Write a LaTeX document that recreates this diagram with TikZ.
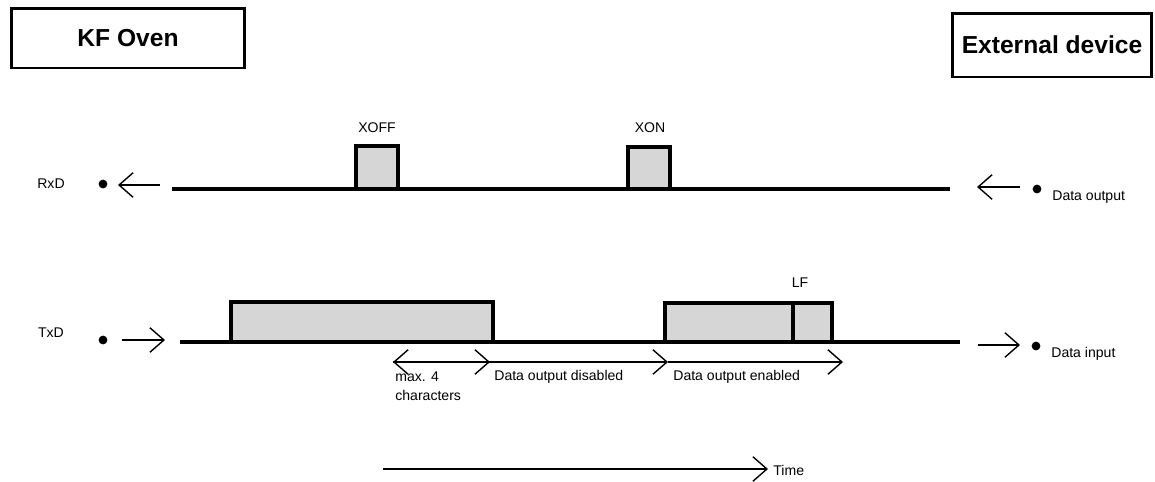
\documentclass[tikz,border=0pt]{standalone}
\usepackage{fontspec}
\setmainfont{Liberation Sans}
\usetikzlibrary{arrows.meta}

\tikzset{
	signal/.style={line width=2.2pt},
	frame/.style={draw, line width=2pt, fill=gray!32},
	barb/.style={line width=0.8pt, -{Straight Barb[length=8pt,width=14pt]}},
	lbl/.style={font=\fontsize{8}{11}\selectfont, inner sep=0pt},
	title/.style={draw, line width=1.7pt, inner sep=0pt, font=\fontsize{14}{16}\selectfont\bfseries},
	dot/.style={circle, fill, inner sep=0pt, minimum size=5pt}
}

\begin{document}
\begin{tikzpicture}[x=0.02cm,y=-0.02cm]
		\useasboundingbox (0,0) rectangle (1155,481);
		% the two devices
		\node[title, minimum width=4.66cm, minimum height=1.2cm] (oven) at (128,38) {KF Oven};
		\node[title, minimum width=3.98cm, minimum height=1.28cm] (ext) at (1052,45) {External device};
		% RxD line
		\node[lbl] (rxd) at (51,184) {RxD};
		\node[dot] (rxdot) at (103,184) {};
		\coordinate (rxa) at (160,185); \coordinate (rxb) at (118,185);
		\draw[barb] (rxa) -- (rxb);
		\draw[signal] (172,189) -- (950,189);
		\draw[frame] (356,189) rectangle (398,146);\node[lbl] (xoff) at (377,128) {XOFF};
		\draw[frame] (628,189) rectangle (670,147);\node[lbl] (xon) at (650,128) {XON};
		\coordinate (outa) at (1020,187); \coordinate (outb) at (977,187);
		\draw[barb] (outa) -- (outb);
		\node[dot] (outdot) at (1037,189) {};
		\node[lbl, anchor=west] (dout) at (1052,197) {Data output};
		% TxD line
		\node[lbl] (txd) at (51,333) {TxD};
		\node[dot] (txdot) at (103,340) {};
		\coordinate (txa) at (122,340); \coordinate (txb) at (165,340);
		\draw[barb] (txa) -- (txb);
		\draw[signal] (180,342) -- (960,342);
		\draw[frame] (231,342) rectangle (493,302);
		\draw[frame] (665,342) rectangle (832,303);\draw[line width=2pt] (793,342) -- (793,303);
		\node[lbl] (lf) at (800,283) {LF};
		\coordinate (ina) at (978,345); \coordinate (inb) at (1020,345);
		\draw[barb] (ina) -- (inb);
		\node[dot] (indot) at (1036,346) {};
		\node[lbl, anchor=west] (din) at (1051,354) {Data input};
		% time spans
		\coordinate (s0) at (393,362); \coordinate (s1) at (490,362);
		\coordinate (s2) at (668,362); \coordinate (s3) at (843,362);
		\draw[barb, {Straight Barb[length=8pt,width=14pt]}-] (s0) -- (s1);
		\draw[barb] (s0) -- (s1);
		\draw[barb] (s1) -- (s2);
		\draw[barb] (s2) -- (s3);
		\node[lbl, anchor=north west, align=left] (maxc) at (395,371) {max. 4\\characters};
		\node[lbl, anchor=west] (dis) at (494,377) {Data output disabled};
		\node[lbl, anchor=west] (en) at (673,377) {Data output enabled};
		% time axis
		\coordinate (t0) at (383,469); \coordinate (t1) at (768,469);
		\draw[barb] (t0) -- (t1);
		\node[lbl, anchor=west] (time) at (773,470) {Time};
	\end{tikzpicture}
\end{document}
